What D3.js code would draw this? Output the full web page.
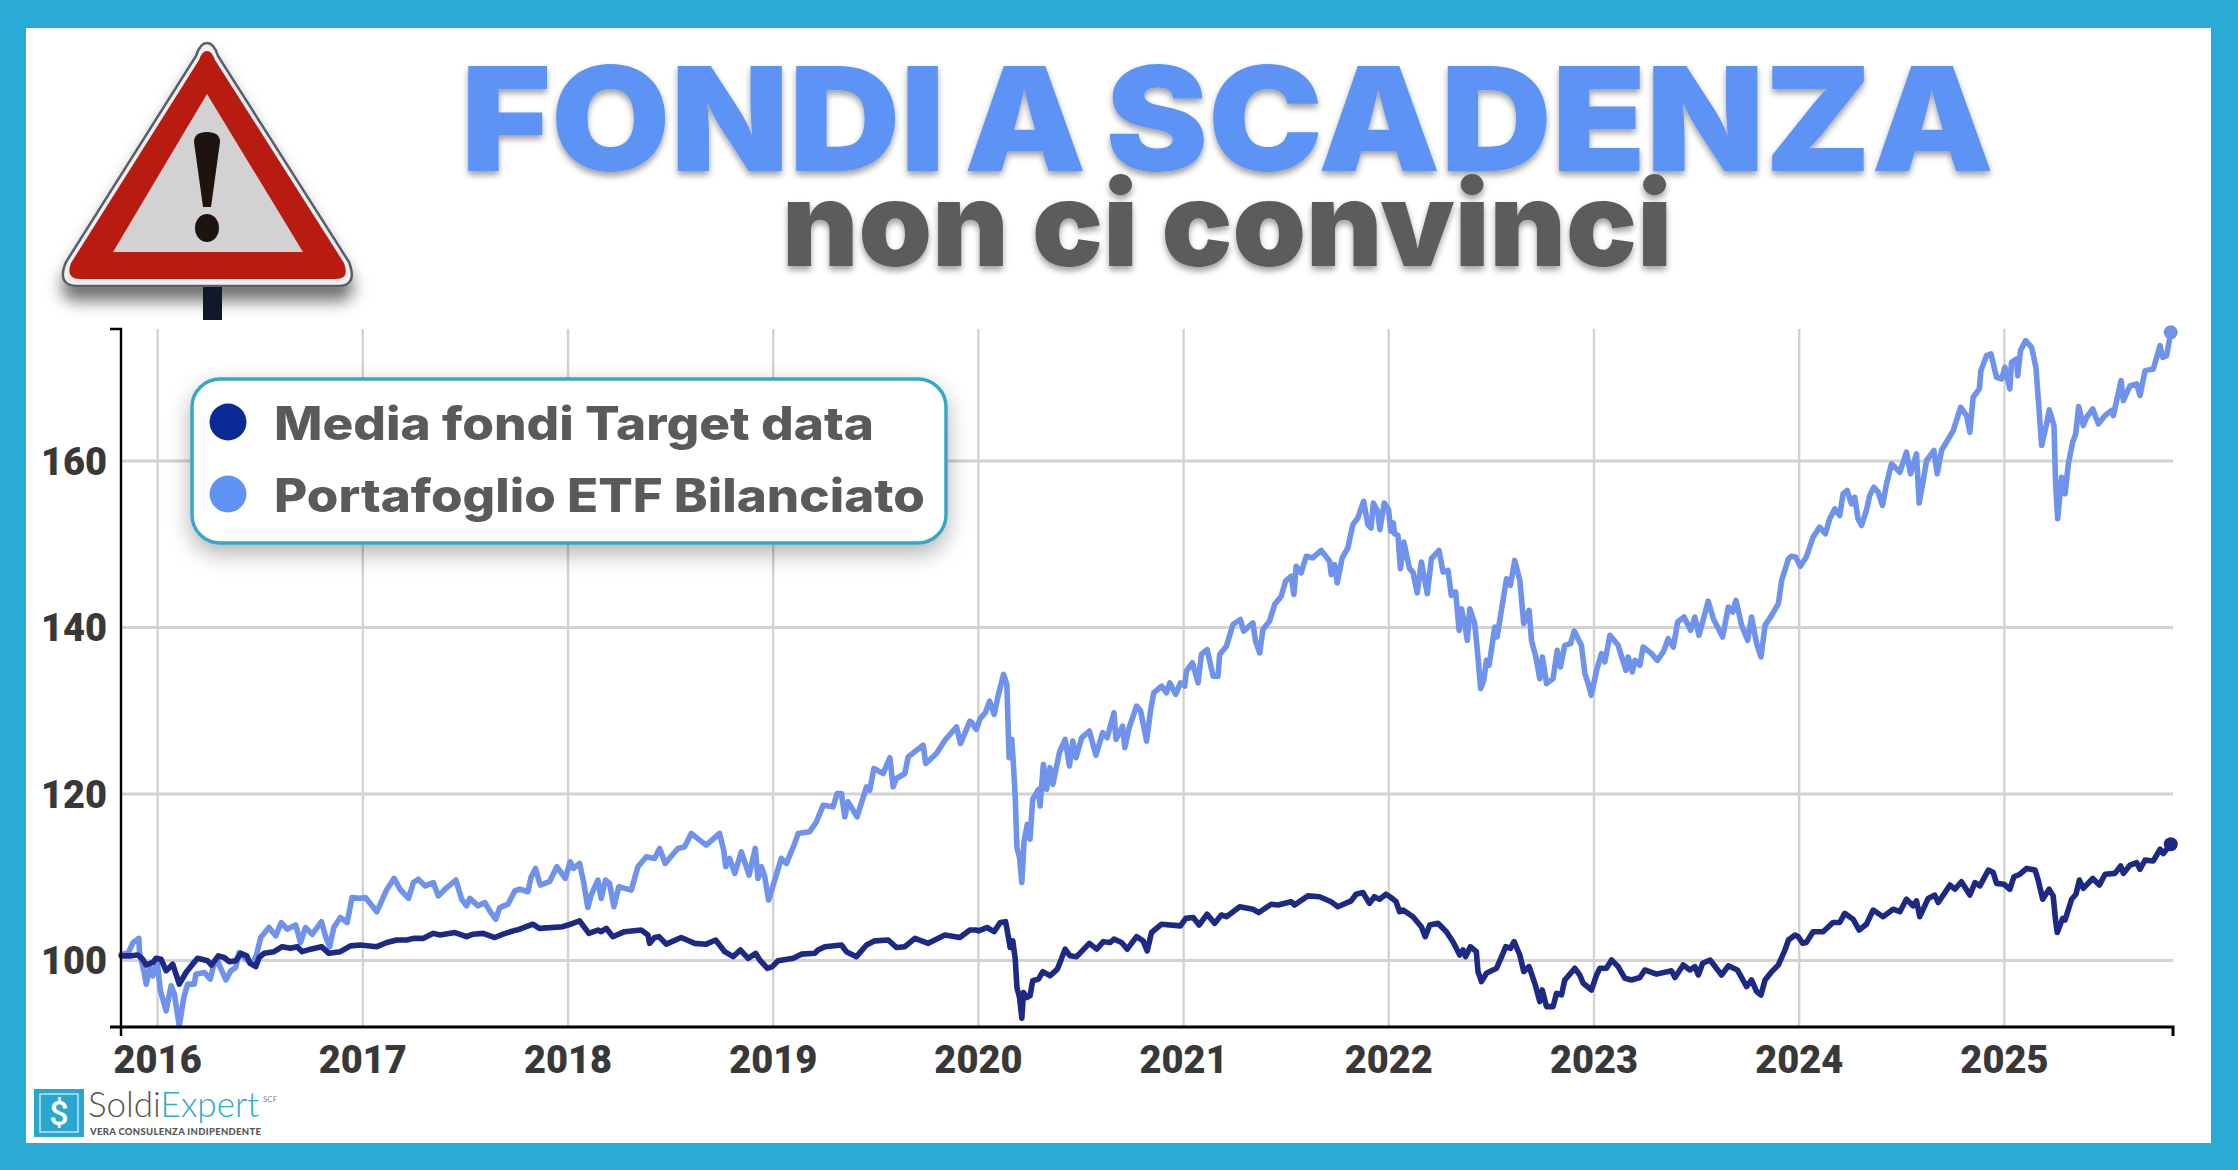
<!DOCTYPE html>
<html><head><meta charset="utf-8">
<style>html,body{margin:0;padding:0;background:#fff}svg{display:block}</style>
<script src="https://cdn.jsdelivr.net/npm/d3@7"></script>
</head><body>
<script>
const yearTicks=[2016,2017,2018,2019,2020,2021,2022,2023,2024,2025];
const valueTicks=[100,120,140,160];
const legendLabels=["Media fondi Target data","Portafoglio ETF Bilanciato"];
const titleMain="FONDI A SCADENZA";
const titleSub="non ci convinci";
const fondiTargetData=[[2015.825,100.5],[2015.874,100.5],[2015.906,100.6],[2015.926,100.2],[2015.947,99.4],[2015.979,99.7],[2015.995,100.2],[2016.019,100.1],[2016.044,98.7],[2016.076,99.5],[2016.108,97.1],[2016.141,98.5],[2016.173,99.5],[2016.197,100.2],[2016.246,99.9],[2016.265,99.4],[2016.298,100.5],[2016.327,100.3],[2016.351,99.8],[2016.383,99.9],[2016.408,100.8],[2016.437,100.5],[2016.453,99.6],[2016.481,99.2],[2016.497,100.3],[2016.521,100.8],[2016.570,101.0],[2016.610,101.6],[2016.650,101.4],[2016.683,101.6],[2016.707,101.0],[2016.748,101.3],[2016.801,101.6],[2016.837,100.8],[2016.893,101.0],[2016.942,101.7],[2016.990,101.8],[2017.071,101.6],[2017.120,102.1],[2017.168,102.4],[2017.217,102.4],[2017.249,102.6],[2017.298,102.6],[2017.346,103.2],[2017.379,103.0],[2017.451,103.3],[2017.508,102.8],[2017.540,103.1],[2017.589,103.2],[2017.646,102.7],[2017.686,103.1],[2017.735,103.5],[2017.767,103.7],
[2017.831,104.3],[2017.863,103.8],[2017.977,104.0],[2018.002,104.2],[2018.059,104.7],[2018.104,103.2],[2018.148,103.6],[2018.164,103.4],[2018.189,103.8],[2018.221,102.8],[2018.278,103.4],[2018.359,103.6],[2018.392,103.0],[2018.400,102.0],[2018.424,102.7],[2018.446,102.8],[2018.481,101.9],[2018.554,102.7],[2018.620,102.0],[2018.676,101.9],[2018.722,102.4],[2018.766,101.0],[2018.807,100.4],[2018.842,101.2],[2018.880,100.2],[2018.917,100.8],[2018.937,100.0],[2018.974,99.0],[2018.998,99.2],[2019.026,99.9],[2019.100,100.2],[2019.140,100.7],[2019.205,100.8],[2019.221,101.2],[2019.254,101.6],[2019.335,101.8],[2019.359,101.0],[2019.408,100.4],[2019.457,101.8],[2019.498,102.3],[2019.563,102.4],[2019.603,101.5],[2019.644,101.6],[2019.693,102.6],[2019.758,102.0],[2019.839,103.0],[2019.912,102.7],[2019.961,103.6],[2019.993,103.6],
[2020.003,103.5],[2020.044,103.9],[2020.079,103.4],[2020.109,104.5],[2020.135,104.6],[2020.149,102.7],[2020.157,101.5],[2020.170,102.3],[2020.182,100.1],[2020.190,96.7],[2020.203,95.5],[2020.214,93.0],[2020.222,96.1],[2020.238,95.5],[2020.254,95.7],[2020.267,97.5],[2020.295,97.7],[2020.316,98.6],[2020.352,98.1],[2020.387,98.9],[2020.425,101.3],[2020.449,100.5],[2020.481,100.4],[2020.543,102.0],[2020.579,101.3],[2020.611,102.2],[2020.644,102.1],[2020.663,102.5],[2020.700,102.1],[2020.728,101.3],[2020.773,102.8],[2020.805,102.3],[2020.825,101.1],[2020.846,103.3],[2020.895,104.3],[2020.987,104.1],[2021.013,105.0],[2021.049,105.1],[2021.078,104.2],[2021.117,105.5],[2021.154,104.4],[2021.186,105.4],[2021.211,105.2],[2021.276,106.4],[2021.340,106.1],[2021.369,105.7],[2021.429,106.7],[2021.462,106.6],[2021.527,107.0],[2021.543,106.6],[2021.608,107.7],[2021.665,107.6],[2021.721,107.0],[2021.754,106.4],[2021.819,107.1],[2021.843,107.9],[2021.876,108.1],[2021.908,106.8],[2021.932,107.6],[2021.957,107.3],[2021.989,107.9],[2022.014,107.5],[2022.038,107.0],
[2022.055,105.8],[2022.072,106.0],[2022.120,105.2],[2022.161,104.0],[2022.180,102.8],[2022.202,104.2],[2022.242,104.4],[2022.283,103.4],[2022.315,102.2],[2022.348,100.6],[2022.364,101.2],[2022.377,100.4],[2022.400,101.6],[2022.429,101.0],[2022.437,98.6],[2022.454,97.4],[2022.478,98.4],[2022.527,99.0],[2022.559,100.8],[2022.572,101.6],[2022.595,101.4],[2022.613,102.2],[2022.641,100.6],[2022.660,98.6],[2022.686,99.2],[2022.714,97.2],[2022.738,95.0],[2022.750,96.4],[2022.771,94.4],[2022.803,94.4],[2022.820,96.0],[2022.844,95.8],[2022.860,97.6],[2022.909,99.0],[2022.933,98.2],[2022.950,97.2],[2022.990,96.4],[2023.015,98.2],[2023.031,99.0],[2023.063,99.0],[2023.088,100.0],[2023.120,99.2],[2023.153,97.8],[2023.185,97.6],[2023.226,97.9],[2023.250,98.8],[2023.307,98.3],[2023.380,98.7],[2023.397,97.9],[2023.437,99.4],[2023.470,98.8],[2023.494,99.2],[2023.511,98.2],[2023.532,99.6],[2023.568,100.0],[2023.624,98.2],[2023.657,99.3],[2023.701,98.8],[2023.746,96.8],[2023.770,97.6],[2023.795,96.2],[2023.816,95.8],[2023.836,97.6],[2023.868,98.6],[2023.901,99.4],[2023.933,101.2],[2023.950,102.4],[2023.982,103.0],[2023.998,102.8],[2024.019,102.0],
[2024.037,102.1],[2024.070,103.4],[2024.119,103.4],[2024.167,104.5],[2024.200,104.5],[2024.224,105.6],[2024.265,104.9],[2024.294,103.6],[2024.330,104.3],[2024.363,106.0],[2024.411,105.2],[2024.460,106.1],[2024.493,105.8],[2024.525,107.3],[2024.558,106.5],[2024.574,107.1],[2024.590,105.2],[2024.631,107.4],[2024.663,107.8],[2024.680,106.9],[2024.737,109.0],[2024.761,108.5],[2024.793,109.4],[2024.834,107.8],[2024.859,109.3],[2024.883,108.9],[2024.924,110.8],[2024.948,110.5],[2024.964,109.2],[2025.000,109.1],[2025.029,108.5],[2025.049,110.0],[2025.078,110.3],[2025.111,111.0],[2025.152,110.8],[2025.168,109.5],[2025.189,107.3],[2025.220,108.5],[2025.240,107.7],[2025.252,104.7],[2025.260,103.3],[2025.286,105.0],[2025.298,104.8],[2025.330,107.3],[2025.351,107.9],[2025.368,109.6],[2025.387,108.6],[2025.433,109.8],[2025.465,109.0],[2025.493,110.3],[2025.541,110.4],[2025.569,111.3],[2025.582,110.4],[2025.615,111.4],[2025.647,111.7],[2025.663,110.9],[2025.688,112.0],[2025.728,111.9],[2025.761,113.3],[2025.777,112.8],[2025.813,113.9]];
const portafoglioETF=[[2015.825,100.7],[2015.858,100.8],[2015.883,102.1],[2015.911,102.6],[2015.914,100.9],[2015.935,98.7],[2015.947,97.1],[2015.964,99.1],[2015.979,98.1],[2016.000,99.9],[2016.016,96.3],[2016.044,93.9],[2016.068,96.9],[2016.084,95.9],[2016.108,92.1],[2016.130,95.5],[2016.149,97.1],[2016.181,97.1],[2016.189,98.3],[2016.230,98.5],[2016.259,97.7],[2016.275,99.3],[2016.294,99.9],[2016.335,97.6],[2016.359,98.7],[2016.383,99.1],[2016.400,100.9],[2016.434,100.1],[2016.466,99.5],[2016.485,100.7],[2016.505,102.7],[2016.545,103.9],[2016.578,102.9],[2016.605,104.5],[2016.634,103.7],[2016.675,104.2],[2016.699,102.1],[2016.723,103.9],[2016.756,103.1],[2016.801,104.6],[2016.820,102.9],[2016.841,101.6],[2016.861,103.9],[2016.893,105.1],[2016.926,104.5],[2016.950,107.5],[2016.987,107.4],[2017.015,107.5],[2017.071,105.8],[2017.120,108.5],[2017.155,109.8],[2017.184,108.5],[2017.225,107.4],[2017.249,109.3],[2017.273,109.7],[2017.306,108.9],[2017.346,109.3],[2017.370,107.7],[2017.403,108.5],[2017.456,109.6],[2017.484,107.3],[2017.508,106.5],[2017.524,107.4],[2017.564,106.5],[2017.597,106.9],[2017.621,105.9],[2017.650,104.9],[2017.670,106.3],[2017.710,106.7],[2017.743,108.3],[2017.767,108.5],
[2017.807,108.2],[2017.823,110.0],[2017.844,111.0],[2017.867,109.0],[2017.912,109.4],[2017.948,111.2],[2017.989,109.8],[2018.013,111.8],[2018.029,111.0],[2018.059,111.6],[2018.078,109.4],[2018.099,106.3],[2018.115,107.8],[2018.148,109.6],[2018.164,107.4],[2018.185,109.6],[2018.205,109.2],[2018.226,106.4],[2018.250,108.8],[2018.278,108.6],[2018.311,108.4],[2018.343,111.2],[2018.384,112.4],[2018.424,112.2],[2018.449,113.4],[2018.476,111.6],[2018.514,112.7],[2018.538,113.4],[2018.571,113.6],[2018.603,115.2],[2018.644,114.4],[2018.676,113.8],[2018.741,115.2],[2018.761,113.2],[2018.771,111.2],[2018.790,112.2],[2018.815,110.4],[2018.847,113.0],[2018.885,110.2],[2018.915,113.4],[2018.928,109.8],[2018.945,111.2],[2018.961,110.0],[2018.980,107.2],[2019.005,109.2],[2019.042,112.2],[2019.067,111.6],[2019.107,114.0],[2019.124,115.2],[2019.180,115.4],[2019.213,116.6],[2019.246,118.6],[2019.294,118.4],[2019.314,120.0],[2019.335,120.0],[2019.351,117.2],[2019.367,119.0],[2019.411,117.2],[2019.457,120.8],[2019.473,120.4],[2019.493,123.0],[2019.538,122.4],[2019.571,124.3],[2019.587,120.8],[2019.603,121.8],[2019.644,122.4],[2019.660,124.4],[2019.733,125.8],[2019.746,123.6],[2019.798,124.8],[2019.839,126.4],[2019.896,128.0],[2019.915,126.0],[2019.961,128.7],
[2019.971,128.5],[2019.992,127.7],[2020.011,129.0],[2020.036,129.7],[2020.057,131.1],[2020.079,129.5],[2020.100,131.9],[2020.125,134.3],[2020.141,133.1],[2020.152,124.3],[2020.165,126.5],[2020.173,123.5],[2020.182,119.5],[2020.190,113.5],[2020.203,112.3],[2020.214,109.3],[2020.225,114.3],[2020.241,116.3],[2020.254,114.5],[2020.267,119.3],[2020.295,120.5],[2020.303,118.5],[2020.319,123.5],[2020.335,120.5],[2020.351,123.1],[2020.365,121.1],[2020.397,124.9],[2020.425,126.5],[2020.446,123.3],[2020.462,126.3],[2020.478,124.3],[2020.506,126.7],[2020.543,127.5],[2020.575,124.6],[2020.608,127.3],[2020.630,126.7],[2020.663,129.7],[2020.673,126.5],[2020.705,128.1],[2020.716,125.5],[2020.737,127.9],[2020.773,130.5],[2020.793,129.9],[2020.822,126.3],[2020.841,129.9],[2020.857,132.1],[2020.895,132.9],[2020.919,132.1],[2020.935,133.3],[2020.964,131.9],[2020.987,133.3],[2021.008,132.9],[2021.016,134.7],[2021.045,135.7],[2021.073,133.3],[2021.089,136.7],[2021.117,137.3],[2021.146,134.1],[2021.170,134.1],[2021.178,136.7],[2021.211,137.7],[2021.243,140.3],[2021.279,140.9],[2021.295,139.5],[2021.340,140.5],[2021.353,138.3],[2021.373,136.9],[2021.389,139.7],[2021.421,140.7],[2021.446,142.7],[2021.478,143.7],[2021.499,145.5],[2021.527,146.1],[2021.540,143.9],[2021.551,147.3],[2021.575,146.5],[2021.600,148.5],[2021.632,148.3],[2021.673,149.2],[2021.714,147.9],[2021.722,146.3],[2021.738,147.5],[2021.751,145.3],[2021.775,148.3],[2021.803,149.5],[2021.827,152.3],[2021.851,153.1],[2021.880,155.1],[2021.900,152.3],[2021.916,151.9],[2021.927,154.9],[2021.948,153.9],[2021.959,151.7],[2021.980,154.9],[2022.001,154.1],[2022.012,151.5],[2022.024,152.5],
[2022.031,151.2],[2022.047,151.0],[2022.059,147.0],[2022.076,150.2],[2022.091,148.4],[2022.104,147.0],[2022.120,146.6],[2022.141,144.1],[2022.161,147.8],[2022.190,144.0],[2022.210,148.2],[2022.247,149.2],[2022.267,146.6],[2022.291,146.8],[2022.307,143.8],[2022.328,144.2],[2022.345,139.6],[2022.356,142.2],[2022.372,140.4],[2022.385,138.4],[2022.397,142.2],[2022.421,140.4],[2022.437,136.4],[2022.450,132.6],[2022.465,133.6],[2022.478,136.0],[2022.491,135.4],[2022.519,140.0],[2022.530,138.8],[2022.551,142.0],[2022.576,145.8],[2022.595,145.0],[2022.616,148.0],[2022.641,145.6],[2022.660,140.4],[2022.686,142.0],[2022.698,138.4],[2022.719,136.4],[2022.738,133.8],[2022.751,136.4],[2022.771,133.2],[2022.803,133.8],[2022.823,137.2],[2022.839,135.2],[2022.860,137.8],[2022.888,138.0],[2022.906,139.5],[2022.941,137.8],[2022.958,134.4],[2022.974,133.2],[2022.989,131.8],[2023.015,134.8],[2023.039,136.8],[2023.055,135.8],[2023.080,139.0],[2023.120,137.8],[2023.158,134.8],[2023.169,136.4],[2023.189,134.6],[2023.202,136.0],[2023.226,135.4],[2023.242,137.6],[2023.283,136.8],[2023.311,136.0],[2023.340,137.0],[2023.364,138.6],[2023.389,137.6],[2023.410,140.6],[2023.441,141.2],[2023.473,139.6],[2023.494,141.2],[2023.514,139.0],[2023.559,143.1],[2023.584,141.0],[2023.629,138.8],[2023.657,142.4],[2023.678,141.8],[2023.694,143.2],[2023.722,140.2],[2023.751,138.4],[2023.770,141.2],[2023.795,138.0],[2023.816,136.4],[2023.836,140.2],[2023.868,141.4],[2023.901,142.8],[2023.917,145.6],[2023.950,148.2],
[2023.964,148.5],[2023.985,148.4],[2024.008,147.3],[2024.037,148.4],[2024.070,150.8],[2024.102,152.0],[2024.130,151.2],[2024.151,153.0],[2024.176,154.2],[2024.200,153.4],[2024.216,156.0],[2024.236,156.4],[2024.257,154.8],[2024.273,155.6],[2024.289,153.0],[2024.306,152.2],[2024.330,154.0],[2024.346,155.8],[2024.366,156.8],[2024.387,156.2],[2024.408,154.6],[2024.428,157.2],[2024.452,159.6],[2024.493,158.6],[2024.525,161.0],[2024.545,158.4],[2024.574,160.8],[2024.587,154.9],[2024.607,157.6],[2024.623,160.0],[2024.659,161.2],[2024.675,158.4],[2024.696,161.2],[2024.753,163.6],[2024.789,166.4],[2024.818,165.4],[2024.834,163.4],[2024.850,167.6],[2024.880,168.6],[2024.888,170.8],[2024.915,172.6],[2024.937,172.8],[2024.964,170.0],[2024.989,169.8],[2025.005,171.2],[2025.029,168.6],[2025.037,171.8],[2025.062,172.2],[2025.067,170.2],[2025.081,173.2],[2025.106,174.4],[2025.135,173.6],[2025.156,171.2],[2025.168,167.2],[2025.184,161.8],[2025.208,164.4],[2025.221,166.1],[2025.244,164.2],[2025.252,157.2],[2025.262,153.0],[2025.281,158.0],[2025.298,156.0],[2025.314,159.6],[2025.335,162.2],[2025.350,163.2],[2025.364,166.5],[2025.387,164.2],[2025.403,165.2],[2025.433,166.2],[2025.460,164.4],[2025.493,165.4],[2025.525,166.0],[2025.533,165.4],[2025.571,169.6],[2025.582,167.2],[2025.615,169.0],[2025.647,169.2],[2025.663,167.8],[2025.688,170.8],[2025.728,171.0],[2025.761,173.8],[2025.774,172.4],[2025.793,172.6],[2025.813,175.4]];

const W=2238,H=1170;
const COL={frame:"#29abd6",grid:"#d2d2d2",dark:"#1c2a85",light:"#6f93ec",title:"#5b93f5",sub:"#5c5c5c",tick:"#383838",teal:"#35a8c4"};
const svg=d3.select("body").append("svg").attr("width",W).attr("height",H).attr("viewBox",`0 0 ${W} ${H}`);
const defs=svg.append("defs");
function shadow(id,dy,std,op){
  const f=defs.append("filter").attr("id",id).attr("x","-20%").attr("y","-30%").attr("width","140%").attr("height","170%");
  f.append("feDropShadow").attr("dx",0).attr("dy",dy).attr("stdDeviation",std).attr("flood-color","#000").attr("flood-opacity",op);
}
shadow("txtShadow",4,3,.38);
shadow("boxShadow",9,11,.3);
shadow("signShadow",14,8,.55);

svg.append("rect").attr("width",W).attr("height",H).attr("fill",COL.frame);
svg.append("rect").attr("x",26).attr("y",28).attr("width",2185).attr("height",1115).attr("fill","#fff");

// warning sign
const signGroup=svg.append("g");
signGroup.append("path").attr("d","M207 43 Q214 43 218 56 L349 262 Q358 286 338 286 L78 286 Q56 286 66 262 L196 56 Q200 43 207 43Z").attr("fill","#f4eeee").attr("stroke","#55606a").attr("stroke-width",2.5).attr("filter","url(#signShadow)");
signGroup.append("rect").attr("x",203).attr("y",287).attr("width",19).attr("height",33).attr("fill","#0e1a2b");
signGroup.append("path").attr("d","M207 51 Q212 51 215 60 L344 263 Q350 279 336 279 L80 279 Q65 279 71 263 L199 60 Q202 51 207 51Z").attr("fill","#b81c10");
signGroup.append("path").attr("d","M207 94 L303 252 L113 252Z").attr("fill","#d2d2d2");
signGroup.append("path").attr("d","M194 142 Q194 132 207 132 Q220 132 220 142 L211 207 L203 207Z").attr("fill","#1d1410");
signGroup.append("ellipse").attr("cx",207).attr("cy",228).attr("rx",12).attr("ry",14).attr("fill","#1d1410");

// titles
svg.append("text").text(titleMain).attr("x",461).attr("y",171).attr("textLength",1533).attr("lengthAdjust","spacingAndGlyphs").attr("word-spacing",-11)
  .attr("font-family","Inter").attr("font-weight",900).attr("font-size",145).attr("fill",COL.title).attr("filter","url(#txtShadow)");
svg.append("text").text(titleSub).attr("x",782).attr("y",266).attr("textLength",890).attr("lengthAdjust","spacingAndGlyphs")
  .attr("font-family","Inter").attr("font-weight",900).attr("font-size",118).attr("fill",COL.sub).attr("filter","url(#txtShadow)");

// chart
const plotL=121,plotR=2173,plotT=329,plotB=1027;
const x=d3.scaleLinear().domain([2015.824,2025.824]).range([plotL,plotR]);
const y=d3.scaleLinear().domain([91.95,175.8]).range([plotB,plotT]);

const gridX=svg.append("g").attr("transform",`translate(0,${plotB})`).call(d3.axisBottom(x).tickValues(yearTicks).tickSize(-(plotB-plotT)).tickFormat(""));
gridX.select(".domain").remove();
gridX.selectAll("line").attr("stroke",COL.grid).attr("stroke-width",2.4);
const gridY=svg.append("g").attr("transform",`translate(${plotL},0)`).call(d3.axisLeft(y).tickValues(valueTicks).tickSize(-(plotR-plotL)).tickFormat(""));
gridY.select(".domain").remove();
gridY.selectAll("line").attr("stroke",COL.grid).attr("stroke-width",3);

const seriesLine=d3.line().x(d=>x(d[0])).y(d=>y(d[1]));
[[portafoglioETF,COL.light],[fondiTargetData,COL.dark]].forEach(([s,c])=>{
  svg.append("path").datum(s).attr("d",seriesLine).attr("fill","none").attr("stroke",c).attr("stroke-width",5.6).attr("stroke-linejoin","round").attr("stroke-linecap","round");
  const e=s[s.length-1];
  svg.append("circle").attr("cx",x(e[0])).attr("cy",y(e[1])).attr("r",7).attr("fill",c);
});

// axes
const axX=svg.append("g").attr("transform",`translate(0,${plotB})`).call(d3.axisBottom(x).tickValues(yearTicks).tickSize(0).tickPadding(20).tickFormat(d3.format("d")));
axX.select(".domain").remove();
axX.selectAll("text").attr("font-family","Roboto").attr("font-weight",900).attr("font-size",38).attr("fill",COL.tick);
axX.selectAll("text").attr("dy",0).attr("y",46);
const axY=svg.append("g").attr("transform",`translate(${plotL},0)`).call(d3.axisLeft(y).tickValues(valueTicks).tickSize(0).tickPadding(14).tickFormat(d3.format("d")));
axY.select(".domain").remove();
axY.selectAll("text").attr("font-family","Roboto").attr("font-weight",900).attr("font-size",38).attr("fill",COL.tick).attr("dy","0.36em");
const axisLines=svg.append("g").attr("stroke","#000").attr("fill","none");
axisLines.append("path").attr("d",d3.line()([[plotL-11,plotT],[plotL,plotT],[plotL,plotB+9]])).attr("stroke-width",2.4);
axisLines.append("path").attr("d",d3.line()([[plotL-11,plotB],[plotR,plotB],[plotR,plotB+9]])).attr("stroke-width",3);

// legend
const lg=svg.append("g");
lg.append("rect").attr("x",192).attr("y",379).attr("width",754).attr("height",164).attr("rx",28).attr("fill","#fff").attr("stroke",COL.teal).attr("stroke-width",3.5).attr("filter","url(#boxShadow)");
const legendRows=[{c:"#0a2a96",cy:422,base:440,w:600},{c:"#5f94f5",cy:494,base:512,w:651}];
legendRows.forEach((r,i)=>{
  lg.append("circle").attr("cx",228).attr("cy",r.cy).attr("r",18.5).attr("fill",r.c);
  lg.append("text").text(legendLabels[i]).attr("x",274).attr("y",r.base).attr("textLength",r.w).attr("lengthAdjust","spacingAndGlyphs")
    .attr("font-family","Inter").attr("font-weight",800).attr("font-size",46).attr("fill","#5a5a5a");
});

// logo
const lo=svg.append("g");
lo.append("rect").attr("x",34).attr("y",1089).attr("width",50).attr("height",48).attr("fill","#2ba6cf");
lo.append("rect").attr("x",40).attr("y",1094).attr("width",38).attr("height",38).attr("fill","none").attr("stroke","#bfe6f2").attr("stroke-width",1.5);
lo.append("text").text("$").attr("x",59).attr("y",1125).attr("text-anchor","middle").attr("font-family","Roboto").attr("font-weight",500).attr("font-size",34).attr("fill","#fff");
const lt=lo.append("text").attr("x",88).attr("y",1117).attr("font-family","Lato").attr("font-weight",300).attr("font-size",35);
lt.append("tspan").text("Soldi").attr("fill","#555");
lt.append("tspan").text("Expert").attr("fill","#2fa9c9");
lo.append("text").text("SCF").attr("x",263).attr("y",1102).attr("font-family","Lato").attr("font-size",8).attr("fill","#888");
lo.append("text").text("VERA CONSULENZA INDIPENDENTE").attr("x",90).attr("y",1135).attr("textLength",171).attr("font-family","Lato").attr("font-weight",900).attr("font-size",9.5).attr("fill","#555");
</script>
</body></html>
